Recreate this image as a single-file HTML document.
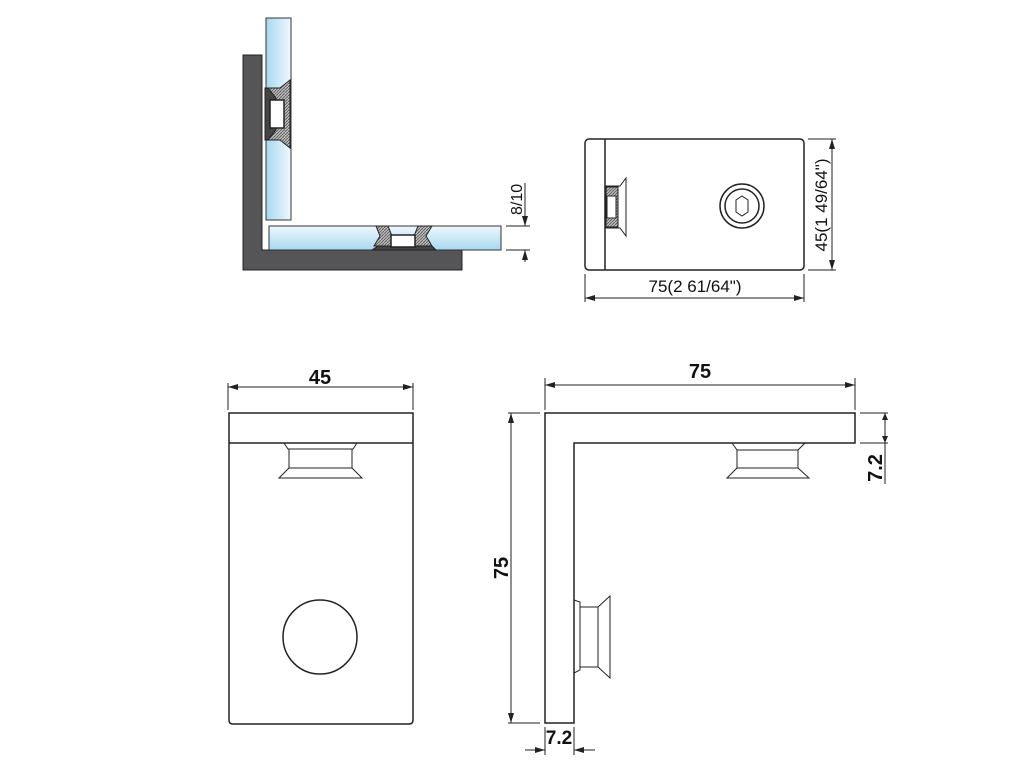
<!DOCTYPE html>
<html><head><meta charset="utf-8"><style>
html,body{margin:0;padding:0;background:#fff;width:1024px;height:768px;overflow:hidden}
svg{display:block}
text{font-family:"Liberation Sans",sans-serif;fill:#111}
.n{font-family:"Liberation Sans Narrow","Liberation Sans",sans-serif;font-weight:bold}
</style></head><body>
<svg width="1024" height="768" viewBox="0 0 1024 768" xmlns="http://www.w3.org/2000/svg">
<defs>
<linearGradient id="gv" x1="0" x2="0" y1="0" y2="1"><stop offset="0" stop-color="#eef8fd"/><stop offset="1" stop-color="#a8d8f0"/></linearGradient>
<linearGradient id="gh" x1="1" x2="0" y1="0" y2="0"><stop offset="0" stop-color="#eef8fd"/><stop offset="1" stop-color="#a8d8f0"/></linearGradient>
<pattern id="h" width="3" height="3" patternUnits="userSpaceOnUse"><rect width="3" height="3" fill="#bbb"/><path d="M0,3L3,0" stroke="#555" stroke-width="0.8"/></pattern>
<marker id="a" viewBox="0 0 10 6" refX="10" refY="3" markerWidth="10" markerHeight="6" orient="auto-start-reverse"><path d="M0,0L10,3L0,6z" fill="#222"/></marker>
</defs>
<!-- Top-left section -->
<path d="M243,55H262V250H462V270H243Z" fill="#555557" stroke="#222"/>
<rect x="266" y="18" width="25" height="202" fill="url(#gh)" stroke="#333"/>
<rect x="269" y="226" width="232" height="24" fill="url(#gv)" stroke="#333"/>
<!-- vertical fitting -->
<path d="M265,88L268,88L276,98V130L268,140L265,140Z" fill="#444" stroke="#222"/>
<path d="M268,88L280,88L290,80V148L280,140L268,140L276,130V98Z" fill="url(#h)" stroke="#222"/>
<rect x="270" y="100" width="14" height="28" fill="#fff" stroke="#222" stroke-width="1.5"/>
<!-- horizontal fitting -->
<path d="M372,250L378,246H432L436,250Z" fill="#444" stroke="#222"/>
<path d="M374,246L380,236L376,226H388L392,236H414L418,226H432L426,236L432,246Z" fill="url(#h)" stroke="#222"/>
<rect x="391" y="235" width="24" height="12" fill="#fff" stroke="#222" stroke-width="1.5"/>
<!-- 8/10 dim -->
<line x1="506" y1="226" x2="530" y2="226" stroke="#222"/>
<line x1="506" y1="250" x2="530" y2="250" stroke="#222"/>
<line x1="525" y1="183" x2="525" y2="226" stroke="#222" marker-end="url(#a)"/>
<line x1="525" y1="262" x2="525" y2="250" stroke="#222" marker-end="url(#a)"/>
<text transform="translate(522,215) rotate(-90)" font-size="16">8/10</text>

<!-- Top-right view -->
<rect x="585" y="139" width="219" height="131" rx="4" fill="#fff" stroke="#222" stroke-width="1.5"/>
<line x1="605" y1="139" x2="605" y2="270" stroke="#222" stroke-width="1.5"/>
<path d="M606,186H620L626,178V236L620,228H606Z" fill="#fff" stroke="#222"/>
<rect x="606" y="187" width="12" height="40" fill="url(#h)" stroke="#222"/>
<rect x="607" y="196" width="9" height="22" fill="#fff" stroke="#222"/>
<circle cx="742" cy="206" r="22" fill="none" stroke="#222" stroke-width="1.5"/>
<circle cx="742" cy="206" r="17" fill="none" stroke="#222" stroke-width="1.5"/>
<path d="M736,200L742,196L748,200V212L742,216L736,212Z" fill="none" stroke="#222"/>
<line x1="585" y1="274" x2="585" y2="302" stroke="#222"/>
<line x1="804" y1="274" x2="804" y2="302" stroke="#222"/>
<line x1="585" y1="298" x2="804" y2="298" stroke="#222" marker-start="url(#a)" marker-end="url(#a)"/>
<text x="695" y="292" font-size="17" text-anchor="middle">75(2 61/64")</text>
<line x1="808" y1="139" x2="836" y2="139" stroke="#222"/>
<line x1="808" y1="270" x2="836" y2="270" stroke="#222"/>
<line x1="832" y1="139" x2="832" y2="270" stroke="#222" marker-start="url(#a)" marker-end="url(#a)"/>
<text transform="translate(827,205) rotate(-90)" font-size="17" text-anchor="middle">45(1 49/64")</text>

<!-- Bottom-left view -->
<path d="M229,413H413V720Q413,724 409,724H233Q229,724 229,720Z" fill="#fff" stroke="#222" stroke-width="1.5"/>
<line x1="229" y1="443" x2="413" y2="443" stroke="#222" stroke-width="1.5"/>
<path d="M284,443L288,449H353L357,443" fill="none" stroke="#222"/>
<rect x="289" y="449" width="63" height="19" fill="none" stroke="#222"/>
<path d="M289,468L279,478H362L352,468" fill="none" stroke="#222"/>
<circle cx="320" cy="637" r="37" fill="none" stroke="#222" stroke-width="1.5"/>
<line x1="228" y1="383" x2="228" y2="410" stroke="#222"/>
<line x1="413" y1="383" x2="413" y2="410" stroke="#222"/>
<line x1="228" y1="387" x2="413" y2="387" stroke="#222" marker-start="url(#a)" marker-end="url(#a)"/>
<text x="320" y="384" class="n" font-size="20" text-anchor="middle">45</text>

<!-- Bottom-right view -->
<path d="M545,413H855V443H574V723H545Z" fill="#fff" stroke="#222" stroke-width="1.5"/>
<path d="M732,443L737,450H798L805,443" fill="none" stroke="#222"/>
<rect x="737" y="450" width="61" height="18" fill="none" stroke="#222"/>
<path d="M737,468L727,478H809L798,468" fill="none" stroke="#222"/>
<path d="M574,600L580,602V670L574,673" fill="none" stroke="#222"/>
<rect x="580" y="607" width="18" height="60" fill="none" stroke="#222"/>
<path d="M598,607L610,596V678L598,667" fill="none" stroke="#222"/>
<!-- dims -->
<line x1="545" y1="378" x2="545" y2="410" stroke="#222"/>
<line x1="855" y1="378" x2="855" y2="410" stroke="#222"/>
<line x1="545" y1="385" x2="855" y2="385" stroke="#222" marker-start="url(#a)" marker-end="url(#a)"/>
<text x="700" y="378" class="n" font-size="20" text-anchor="middle">75</text>
<line x1="508" y1="413" x2="540" y2="413" stroke="#222"/>
<line x1="508" y1="723" x2="540" y2="723" stroke="#222"/>
<line x1="511" y1="413" x2="511" y2="723" stroke="#222" marker-start="url(#a)" marker-end="url(#a)"/>
<text transform="translate(508,568) rotate(-90)" class="n" font-size="20" text-anchor="middle">75</text>
<line x1="860" y1="413" x2="888" y2="413" stroke="#222"/>
<line x1="860" y1="443" x2="888" y2="443" stroke="#222"/>
<line x1="885" y1="413" x2="885" y2="484" stroke="#222"/>
<path d="M882,420L885,413L888,420Z M882,436L885,443L888,436Z" fill="#222"/>
<text transform="translate(882,468) rotate(-90)" class="n" font-size="20" text-anchor="middle">7.2</text>
<line x1="545" y1="727" x2="545" y2="755" stroke="#222"/>
<line x1="574" y1="727" x2="574" y2="755" stroke="#222"/>
<line x1="525" y1="750" x2="545" y2="750" stroke="#222" marker-end="url(#a)"/>
<line x1="595" y1="750" x2="574" y2="750" stroke="#222" marker-end="url(#a)"/>
<text x="559" y="744" class="n" font-size="19" text-anchor="middle">7.2</text>
</svg>
</body></html>
